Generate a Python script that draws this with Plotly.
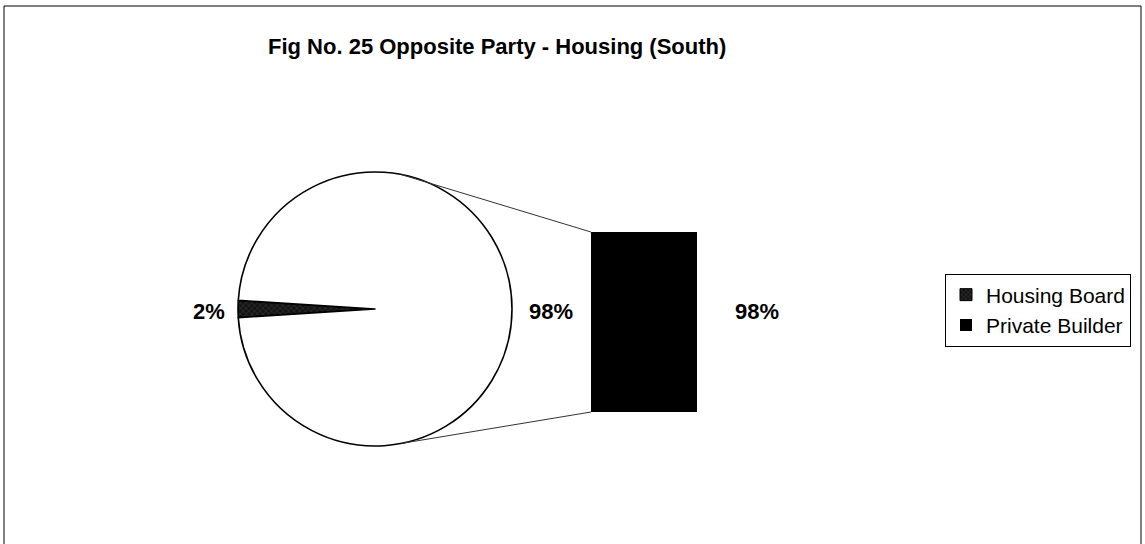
import math
import plotly.graph_objects as go

# ---- data ----
categories = ["Housing Board", "Private Builder"]
values = [2, 98]
title_text = "Fig No. 25 Opposite Party - Housing (South)"

W, H = 1145, 544
total = sum(values)
pcts = [v / total * 100 for v in values]
pct_labels = [f"{p:.0f}%" for p in pcts]

# pie geometry (pixels)
cx, cy, R = 375, 309, 137
# bar geometry (pixels)
bx0, bx1, by_top, by_bot = 591, 697, 232, 412

FONT = "Liberation Sans, Arial, sans-serif"

fig = go.Figure()

start = 270 - pcts[0] * 3.6 / 2
fig.add_trace(go.Pie(
    labels=[categories[0], "Other"],
    values=values,
    sort=False,
    direction="clockwise",
    rotation=start,
    marker=dict(colors=["#141414", "#ffffff"],
                line=dict(color="#000000", width=1.6),
                pattern=dict(shape=["x", ""], fgcolor="#555555", bgcolor="#141414", size=4, solidity=0.15)),
    textinfo="none",
    hoverinfo="label+percent",
    showlegend=False,
    domain=dict(x=[(cx - R) / W, (cx + R) / W],
                y=[(H - cy - R) / H, (H - cy + R) / H]),
))

fig.add_trace(go.Bar(
    x=[None], y=[None], name=categories[0], legendgroup="a",
    marker=dict(color="#141414", line=dict(color="#000", width=1),
                pattern=dict(shape="x", fgcolor="#888888", bgcolor="#141414", size=4, solidity=0.2)),
    xaxis="x", yaxis="y",
))
fig.add_trace(go.Bar(
    x=[0], y=[values[1]], name=categories[1], width=[1], legendgroup="b",
    marker=dict(color="#000000", line=dict(color="#000", width=0)),
    xaxis="x", yaxis="y",
))

fig.update_layout(
    width=W, height=H,
    margin=dict(l=0, r=0, t=0, b=0),
    paper_bgcolor="white", plot_bgcolor="rgba(0,0,0,0)",
    font=dict(family=FONT, color="#000"),
    xaxis=dict(domain=[bx0 / W, bx1 / W], range=[-0.5, 0.5], visible=False, fixedrange=True),
    yaxis=dict(domain=[(H - by_bot) / H, (H - by_top) / H], range=[0, values[1]],
               visible=False, fixedrange=True),
    showlegend=True,
    legend=dict(x=1131 / W, xanchor="right", y=(H - 310) / H, yanchor="middle",
                bordercolor="#000", borderwidth=1, bgcolor="white",
                font=dict(size=21, family=FONT),
                traceorder="normal", itemwidth=30, tracegroupgap=4),
    bargap=0,
)

fig.add_annotation(text=f"<b>{title_text}</b>", x=497 / W, y=1 - 46 / H,
                   xanchor="center", yanchor="middle",
                   xref="paper", yref="paper", showarrow=False,
                   font=dict(size=22, family=FONT))

fig.add_shape(type="rect", xref="paper", yref="paper",
              x0=4 / W, x1=1141 / W, y0=-0.05, y1=1 - 6 / H,
              line=dict(color="#000", width=1))

ang = math.radians(11)
px = cx + R * math.sin(ang)
py_top = cy - R * math.cos(ang)
py_bot = cy + R * math.cos(ang)
for py, by in [(py_top, by_top), (py_bot, by_bot)]:
    fig.add_shape(type="line", xref="paper", yref="paper",
                  x0=px / W, y0=1 - py / H, x1=bx0 / W, y1=1 - by / H,
                  line=dict(color="#333", width=1))

lab_font = dict(size=22, family=FONT)
fig.add_annotation(text=f"<b>{pct_labels[0]}</b>", x=227 / W, y=1 - 311 / H,
                   xanchor="right", yanchor="middle",
                   xref="paper", yref="paper", showarrow=False, font=lab_font)
fig.add_annotation(text=f"<b>{pct_labels[1]}</b>", x=551 / W, y=1 - 311 / H,
                   xanchor="center", yanchor="middle",
                   xref="paper", yref="paper", showarrow=False, font=lab_font)
fig.add_annotation(text=f"<b>{pct_labels[1]}</b>", x=757 / W, y=1 - 311 / H,
                   xanchor="center", yanchor="middle",
                   xref="paper", yref="paper", showarrow=False, font=lab_font)

fig.write_html("out.html", config={"displayModeBar": False},
               post_script="document.body.style.margin='0';")
